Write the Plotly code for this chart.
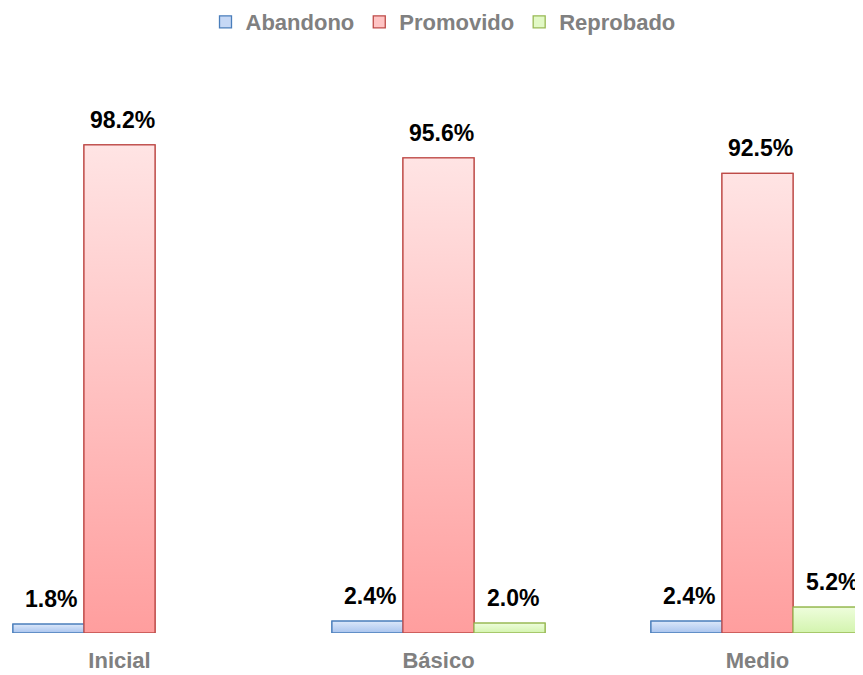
import plotly.graph_objects as go

categories = ["Inicial", "Básico", "Medio"]
series_names = ["Abandono", "Promovido", "Reprobado"]
abandono = [1.8, 2.4, 2.4]
promovido = [98.2, 95.6, 92.5]
reprobado = [None, 2.0, 5.2]
values = [abandono, promovido, reprobado]

border_colors = ["#4a7ebb", "#be4b48", "#98b954"]
top_colors = ["#dce8fa", "#ffe4e4", "#eefddc"]
bottom_colors = ["#a9c4ee", "#ff9e9e", "#d3f4ae"]
mid_colors = ["#c6d8f5", "#ffc4c4", "#e2f9c6"]

FONT = "Liberation Sans, Arial, sans-serif"
bargap = 0.332
n_series = len(series_names)
bar_w = (1 - bargap) / n_series
xs = list(range(len(categories)))

W, H = 863, 667          # page adds an 8px body margin
T, B = 128, 42
plot_h = H - T - B
cat_px = 319
first_center = 111.5

fig = go.Figure()

for k, name in enumerate(series_names):
    fig.add_trace(go.Bar(
        name=name, x=xs, y=values[k],
        marker=dict(color=mid_colors[k], line=dict(color=border_colors[k], width=1.3)),
    ))

# gradient fills drawn over each bar, using the same data and bar geometry
for k, name in enumerate(series_names):
    for i, v in enumerate(values[k]):
        if v is None:
            continue
        c = i + (k - (n_series - 1) / 2) * bar_w
        x0, x1 = c - bar_w / 2, c + bar_w / 2
        fig.add_trace(go.Scatter(
            x=[x0, x1, x1, x0, x0], y=[0, 0, v, v, 0],
            mode="lines", fill="toself",
            line=dict(color=border_colors[k], width=1.3),
            fillgradient=dict(type="vertical", start=0, stop=v,
                              colorscale=[[0, bottom_colors[k]], [1, top_colors[k]]]),
            showlegend=False, hoverinfo="skip",
        ))
        fig.add_annotation(
            x=c, y=v, text=f"{v:.1f}%", showarrow=False,
            yanchor="bottom", yshift=10, xshift=3,
            font=dict(family=FONT, size=23, color="#000000", weight="bold"),
        )

fig.update_layout(
    barmode="group", bargap=bargap, bargroupgap=0,
    width=W, height=H,
    margin=dict(l=0, r=0, t=T, b=B, autoexpand=False),
    plot_bgcolor="white", paper_bgcolor="white",
    showlegend=True,
    legend=dict(orientation="h", x=(443 - 8) / W, xanchor="center",
                y=1 + (T - 14) / plot_h, yanchor="middle",
                font=dict(family=FONT, size=22, color="#808080", weight="bold"),
                itemclick=False, traceorder="normal"),
    xaxis=dict(range=[-first_center / cat_px, (W - first_center) / cat_px],
               tickvals=xs, ticktext=categories,
               showgrid=False, zeroline=False, showline=False, ticks="",
               ticklabelstandoff=12,
               tickfont=dict(family=FONT, size=22, color="#808080", weight="bold")),
    yaxis=dict(range=[0, 100], visible=False, showgrid=False, zeroline=False),
)

fig.write_html("out.html")
